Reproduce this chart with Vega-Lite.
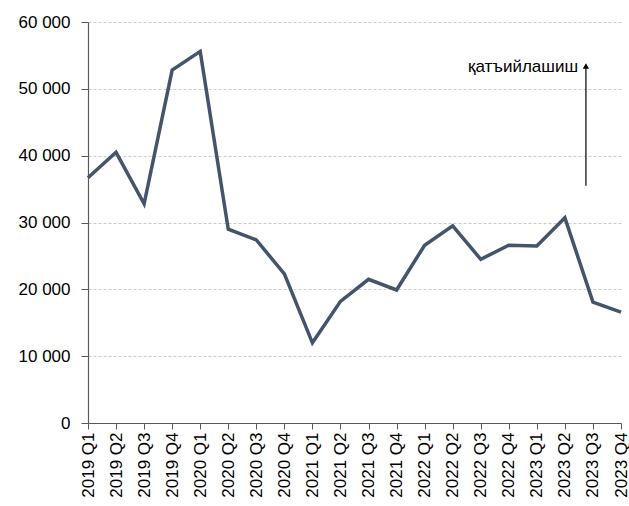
{
  "$schema": "https://vega.github.io/schema/vega-lite/v6.json",
  "width": 533,
  "height": 401,
  "autosize": "none",
  "padding": {"left": 88, "top": 22, "right": 8, "bottom": 83},
  "config": {
    "view": {"stroke": null},
    "font": "Liberation Sans"
  },
  "datasets": {
    "series": [
      {"q": "2019 Q1", "v": 36700},
      {"q": "2019 Q2", "v": 40500},
      {"q": "2019 Q3", "v": 32800},
      {"q": "2019 Q4", "v": 52800},
      {"q": "2020 Q1", "v": 55600},
      {"q": "2020 Q2", "v": 29000},
      {"q": "2020 Q3", "v": 27400},
      {"q": "2020 Q4", "v": 22300},
      {"q": "2021 Q1", "v": 12000},
      {"q": "2021 Q2", "v": 18200},
      {"q": "2021 Q3", "v": 21500},
      {"q": "2021 Q4", "v": 19900},
      {"q": "2022 Q1", "v": 26600},
      {"q": "2022 Q2", "v": 29500},
      {"q": "2022 Q3", "v": 24500},
      {"q": "2022 Q4", "v": 26600},
      {"q": "2023 Q1", "v": 26500},
      {"q": "2023 Q2", "v": 30700},
      {"q": "2023 Q3", "v": 18100},
      {"q": "2023 Q4", "v": 16600}
    ],
    "arrow": [
      {"pos": 17.75, "y0": 35500, "y1": 53400, "label": "қатъийлашиш", "ty": 53300, "tx": 17.47}
    ]
  },
  "layer": [
    {
      "data": {"name": "series"},
      "mark": {"type": "line", "color": "#44546A", "strokeWidth": 3.5, "strokeJoin": "miter"},
      "encoding": {
        "x": {
          "field": "q", "type": "ordinal", "sort": null,
          "scale": {"type": "point", "padding": 0},
          "axis": {
            "title": null, "labelAngle": -90, "labelFontSize": 17, "labelColor": "#000000",
            "domainColor": "#595959", "domainWidth": 1.2, "tickColor": "#595959", "tickSize": 6,
            "labelPadding": 3, "grid": false
          }
        },
        "y": {
          "field": "v", "type": "quantitative",
          "scale": {"domain": [0, 60000], "nice": false},
          "axis": {
            "title": null, "values": [0, 10000, 20000, 30000, 40000, 50000, 60000],
            "labelExpr": "replace(format(datum.value, ',d'), /,/g, ' ')",
            "labelFontSize": 17, "labelColor": "#000000", "labelPadding": 11,
            "domainColor": "#595959", "domainWidth": 1.2, "tickColor": "#595959", "tickSize": 7,
            "grid": true, "gridColor": "#BFBFBF", "gridDash": [3, 2], "gridWidth": 0.8
          }
        }
      }
    },
    {
      "data": {"name": "arrow"},
      "layer": [
        {
          "mark": {"type": "rule", "color": "#000000", "strokeWidth": 1.2},
          "encoding": {
            "x": {"field": "pos", "type": "quantitative", "scale": {"domain": [0, 19], "nice": false, "zero": false}, "axis": null},
            "y": {"field": "y0", "type": "quantitative"},
            "y2": {"field": "y1"}
          }
        },
        {
          "mark": {"type": "point", "shape": "triangle-up", "filled": true, "color": "#000000", "size": 40, "opacity": 1},
          "encoding": {
            "x": {"field": "pos", "type": "quantitative", "scale": {"domain": [0, 19], "nice": false, "zero": false}, "axis": null},
            "y": {"field": "y1", "type": "quantitative"}
          }
        },
        {
          "mark": {"type": "text", "align": "right", "baseline": "middle", "fontSize": 17, "color": "#000000"},
          "encoding": {
            "x": {"field": "tx", "type": "quantitative", "scale": {"domain": [0, 19], "nice": false, "zero": false}, "axis": null},
            "y": {"field": "ty", "type": "quantitative"},
            "text": {"field": "label"}
          }
        }
      ]
    }
  ],
  "resolve": {"scale": {"x": "independent"}}
}
